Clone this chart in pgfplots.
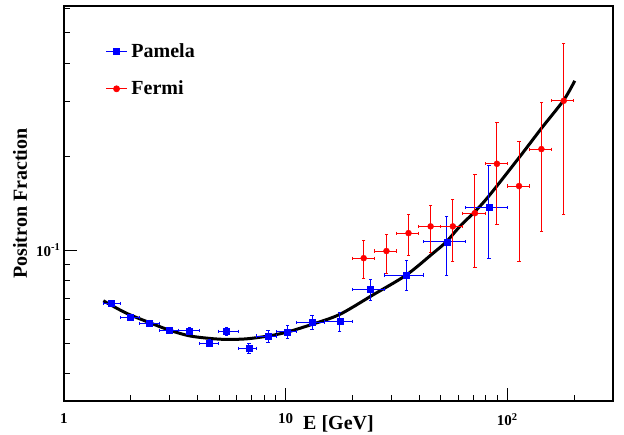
\documentclass[border=0pt]{standalone}
\usepackage{pgfplots}
\usepackage{pgfplotstable}
\pgfplotsset{compat=1.18}
\usepackage{fontspec}
\setmainfont{Liberation Serif}

% Pamela: energy, positron fraction
\pgfplotstableread{
x y
1.64 0.0674
1.99 0.0607
2.43 0.0582
2.98 0.0552
3.67 0.0550
4.52 0.0501
5.41 0.0548
6.83 0.0483
8.33 0.0529
10.18 0.0546
13.16 0.0585
17.54 0.0589
24.07 0.0747
35.12 0.0831
53.4 0.1063
82.7 0.1372
}\pamela

% Fermi: energy, positron fraction
\pgfplotstableread{
x y
22.5 0.0942
28.5 0.0993
35.85 0.1134
45.1 0.1192
56.8 0.1192
71.5 0.1315
89.8 0.1895
113 0.1607
142.6 0.2113
179.8 0.3022
}\fermi

\begin{document}
\begin{tikzpicture}
\useasboundingbox (-64pt,-34pt) rectangle (560pt,401pt);
\begin{axis}[
  scale only axis, width=549pt, height=395pt,
  xmode=log, ymode=log,
  xmin=1, xmax=300, ymin=0.0327, ymax=0.61,
  axis line style={line width=1.2pt},
  tick align=inside, tick pos=left,
  xtick={1,10,100}, xticklabels={1,10,10\textsuperscript{2}},
  minor xtick={2,3,4,5,6,7,8,9,20,30,40,50,60,70,80,90,200},
  ytick={0.1}, yticklabels={10\textsuperscript{-1}},
  minor ytick={0.04,0.05,0.06,0.07,0.08,0.09,0.2,0.3,0.4,0.5,0.6},
  major tick length=13pt, minor tick length=6.5pt,
  tick style={black, line width=0.8pt},
  ticklabel style={font=\fontsize{15}{15}\selectfont\bfseries},
  xticklabel style={yshift=-9pt},
  xlabel={E [GeV]}, ylabel={Positron Fraction},
  every axis x label/.style={at={(axis description cs:0.5,-0.0354)}, anchor=north, inner sep=0pt, font=\fontsize{20}{20}\selectfont\bfseries},
  every axis y label/.style={at={(axis description cs:-0.0801,0.5)}, rotate=90, anchor=center, inner sep=0pt, font=\fontsize{20}{20}\selectfont\bfseries},
  legend style={draw=none, fill=none, at={(axis description cs:0.0755,0.91)}, anchor=north west,
    font=\fontsize{20}{20}\selectfont\bfseries, row sep=18pt, inner sep=0pt,
    /tikz/every odd column/.append style={column sep=2pt}},
  legend cell align=left,
  legend image code/.code={\draw[mark repeat=2, mark phase=2, #1] plot coordinates {(0pt,0pt) (10.5pt,0pt) (21pt,0pt)};},
  unbounded coords=jump,
]
\addlegendimage{blue, mark=square*, mark size=3pt, line width=0.8pt}
\addlegendentry{Pamela}
\addlegendimage{red, mark=*, mark size=3pt, line width=0.8pt}
\addlegendentry{Fermi}

% fit curve
\addplot[black, line width=3pt, smooth, forget plot] coordinates {
(1.505,0.0687) (1.900,0.0628) (2.422,0.0585) (2.982,0.0553) (3.671,0.0530)
(4.522,0.0520) (5.379,0.0516) (6.624,0.0518) (8.327,0.0529) (10.18,0.0545)
(13.16,0.0577) (17.54,0.0621) (24.73,0.0717) (35.00,0.0831) (46.16,0.0976)
(53.06,0.1063) (60.95,0.1189) (72.53,0.1345) (83.27,0.1503) (113.8,0.1996)
(142.6,0.2464) (179.8,0.3038) (201.6,0.3505)
};

% Pamela vertical error bars (low, high)
\addplot[draw=blue, line width=1pt, mark=-, mark size=1.6pt, mark options={solid, draw=blue, line width=1pt}, forget plot] coordinates {
(1.64,0.0662) (1.64,0.0686) (1.64,nan)
(1.99,0.0596) (1.99,0.0618) (1.99,nan)
(2.43,0.0571) (2.43,0.0593) (2.43,nan)
(2.98,0.0541) (2.98,0.0563) (2.98,nan)
(3.67,0.0538) (3.67,0.0562) (3.67,nan)
(4.52,0.0488) (4.52,0.0514) (4.52,nan)
(5.41,0.0531) (5.41,0.0565) (5.41,nan)
(6.83,0.0465) (6.83,0.0501) (6.83,nan)
(8.33,0.0506) (8.33,0.0552) (8.33,nan)
(10.18,0.0518) (10.18,0.0574) (10.18,nan)
(13.16,0.0555) (13.16,0.0615) (13.16,nan)
(17.54,0.0549) (17.54,0.0629) (17.54,nan)
(24.07,0.0689) (24.07,0.0805) (24.07,nan)
(35.12,0.0740) (35.12,0.0924) (35.12,nan)
(53.4,0.0831) (53.4,0.1280) (53.4,nan)
(82.7,0.0940) (82.7,0.1867)
};
% Pamela horizontal error bars (bin edges)
\addplot[draw=blue, line width=1pt, mark=|, mark size=1.6pt, mark options={solid, draw=blue, line width=1pt}, forget plot] coordinates {
(1.5,0.0674) (1.8,0.0674) (nan,0.0674)
(1.8,0.0607) (2.2,0.0607) (nan,0.0607)
(2.2,0.0582) (2.7,0.0582) (nan,0.0582)
(2.7,0.0552) (3.3,0.0552) (nan,0.0552)
(3.3,0.0550) (4.1,0.0550) (nan,0.0550)
(4.1,0.0501) (5.0,0.0501) (nan,0.0501)
(5.0,0.0548) (6.1,0.0548) (nan,0.0548)
(6.1,0.0483) (7.4,0.0483) (nan,0.0483)
(7.4,0.0529) (9.1,0.0529) (nan,0.0529)
(9.1,0.0546) (11.2,0.0546) (nan,0.0546)
(11.2,0.0585) (15,0.0585) (nan,0.0585)
(15,0.0589) (20,0.0589) (nan,0.0589)
(20,0.0747) (28,0.0747) (nan,0.0747)
(28,0.0831) (42,0.0831) (nan,0.0831)
(42,0.1063) (65,0.1063) (nan,0.1063)
(65,0.1372) (100,0.1372)
};
\addplot[blue, only marks, mark=square*, mark size=3pt, forget plot] table[x=x, y=y] {\pamela};

% Fermi vertical error bars (low, high)
\addplot[draw=red, line width=1pt, mark=-, mark size=1.6pt, mark options={solid, draw=red, line width=1pt}, forget plot] coordinates {
(22.5,0.0809) (22.5,0.1074) (22.5,nan)
(28.5,0.0842) (28.5,0.1123) (28.5,nan)
(35.85,0.0959) (35.85,0.1303) (35.85,nan)
(45.1,0.0983) (45.1,0.1395) (45.1,nan)
(56.8,0.0922) (56.8,0.1456) (56.8,nan)
(71.5,0.0880) (71.5,0.1752) (71.5,nan)
(89.8,0.1212) (89.8,0.2568) (89.8,nan)
(113,0.0922) (113,0.2231) (113,nan)
(142.6,0.1151) (142.6,0.2978) (142.6,nan)
(179.8,0.1306) (179.8,0.4634)
};
% Fermi horizontal error bars (bin edges)
\addplot[draw=red, line width=1pt, mark=|, mark size=1.6pt, mark options={solid, draw=red, line width=1pt}, forget plot] coordinates {
(20,0.0942) (25.1,0.0942) (nan,0.0942)
(25.1,0.0993) (31.6,0.0993) (nan,0.0993)
(31.6,0.1134) (39.8,0.1134) (nan,0.1134)
(39.8,0.1192) (50.1,0.1192) (nan,0.1192)
(50.1,0.1192) (63.1,0.1192) (nan,0.1192)
(63.1,0.1315) (79.4,0.1315) (nan,0.1315)
(79.4,0.1895) (100,0.1895) (nan,0.1895)
(100,0.1607) (126,0.1607) (nan,0.1607)
(126,0.2113) (158.5,0.2113) (nan,0.2113)
(158.5,0.3022) (200,0.3022)
};
\addplot[red, only marks, mark=*, mark size=3pt, forget plot] table[x=x, y=y] {\fermi};
\end{axis}
\end{tikzpicture}
\end{document}
